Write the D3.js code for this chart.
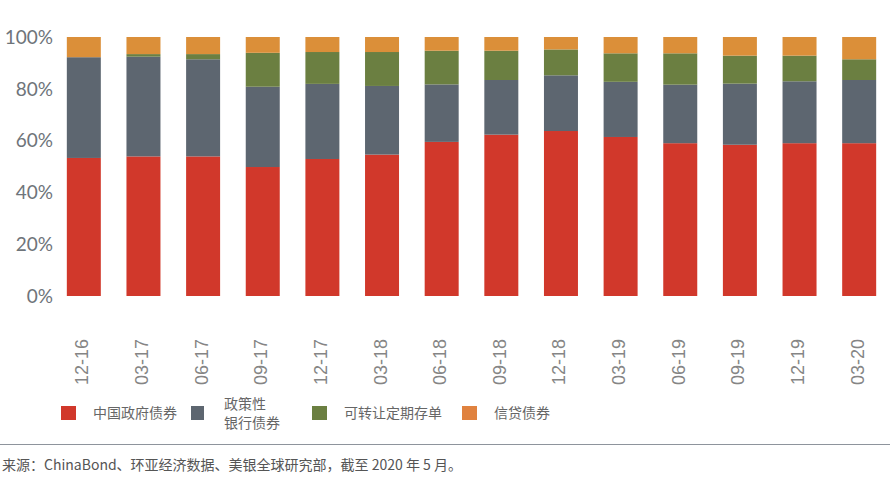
<!DOCTYPE html>
<html>
<head>
<meta charset="utf-8">
<script src="https://cdn.jsdelivr.net/npm/d3@7"></script>
<style>
  body { margin: 0; background: #fff; }
</style>
</head>
<body>
<svg id="chart"></svg>
<script>
const periods = ["12-16","03-17","06-17","09-17","12-17","03-18","06-18","09-18","12-18","03-19","06-19","09-19","12-19","03-20"];
const govBonds    = [53.3, 53.9, 53.9, 49.8, 52.9, 54.6, 59.5, 62.3, 63.7, 61.4, 59.0, 58.4, 59.0, 59.0];
const policyBank  = [38.9, 38.5, 37.5, 31.0, 29.0, 26.5, 22.2, 21.1, 21.5, 21.3, 22.6, 23.6, 23.9, 24.4];
const ncd         = [0.0, 1.0, 2.0, 13.1, 12.3, 13.1, 13.0, 11.3, 10.0, 11.0, 12.1, 10.8, 9.9, 8.0];
const creditBonds = [7.8, 6.6, 6.6, 6.1, 5.8, 5.8, 5.3, 5.3, 4.8, 6.3, 6.3, 7.2, 7.2, 8.6];
const yTicks = [0, 20, 40, 60, 80, 100];
const seriesNames = ["中国政府债券", "政策性银行债券", "可转让定期存单", "信贷债券"];
const seriesColors = ["#d1382b", "#5d6670", "#6b7f41", "#db8f39"];

const width = 894, height = 496;
const marginTop = 37, marginBottom = 200;
const keys = ["gov", "policy", "ncd", "credit"];

const data = periods.map((p, i) => ({
  period: p,
  gov: govBonds[i],
  policy: policyBank[i],
  ncd: ncd[i],
  credit: creditBonds[i]
}));

const svg = d3.select("#chart")
  .attr("width", width)
  .attr("height", height)
  .attr("viewBox", [0, 0, width, height]);

const x = d3.scaleBand()
  .domain(periods)
  .range([54, 889])
  .paddingInner(0.43)
  .paddingOuter(0.215);

const y = d3.scaleLinear()
  .domain([0, 100])
  .range([height - marginBottom, marginTop]);

const stack = d3.stack().keys(keys)(data);

svg.append("g")
  .selectAll("g")
  .data(stack)
  .join("g")
  .attr("fill", (d, i) => seriesColors[i])
  .selectAll("rect")
  .data(d => d)
  .join("rect")
  .attr("x", d => x(d.data.period))
  .attr("y", d => y(d[1]))
  .attr("height", d => y(d[0]) - y(d[1]))
  .attr("width", x.bandwidth());

// y axis labels
svg.append("g")
  .selectAll("text")
  .data(yTicks)
  .join("text")
  .attr("x", 53)
  .attr("y", d => y(d))
  .attr("dy", "0.36em")
  .attr("text-anchor", "end")
  .attr("font-family", "Lato, 'Open Sans', sans-serif")
  .attr("font-size", 19)
  .attr("fill", "#6e747a")
  .text(d => d + "%");

// x axis labels (rotated)
svg.append("g")
  .selectAll("text")
  .data(periods)
  .join("text")
  .attr("transform", d => `translate(${x(d) + x.bandwidth() / 2 - 2},339) rotate(-90)`)
  .attr("dy", "0.36em")
  .attr("text-anchor", "end")
  .attr("font-family", "'Liberation Sans', Arial, sans-serif")
  .attr("font-size", 18)
  .attr("fill", "#858585")
  .text(d => d);

// legend
const legendX = [61, 191, 312, 462];
const legend = svg.append("g")
  .attr("font-family", "'Noto Sans CJK SC', sans-serif")
  .attr("font-size", 14)
  .attr("fill", "#666");
seriesNames.forEach((name, i) => {
  legend.append("rect")
    .attr("x", legendX[i])
    .attr("y", 406)
    .attr("width", i === 1 ? 13 : 15)
    .attr("height", 14)
    .attr("fill", i === 3 ? "#e0823f" : seriesColors[i]);
  if (i === 1) {
    legend.append("text").attr("x", 224).attr("y", 409).text("政策性");
    legend.append("text").attr("x", 224).attr("y", 428).text("银行债券");
  } else {
    legend.append("text")
      .attr("x", legendX[i] + 32)
      .attr("y", 418)
      .text(name);
  }
});

// separator and source
svg.append("line")
  .attr("x1", 0).attr("x2", 890)
  .attr("y1", 444.5).attr("y2", 444.5)
  .attr("stroke", "#8e949c")
  .attr("stroke-width", 1);

svg.append("text")
  .attr("x", 2)
  .attr("y", 470)
  .attr("font-family", "'Noto Sans CJK SC', sans-serif")
  .attr("font-size", 14)
  .attr("fill", "#555")
  .text("来源：ChinaBond、环亚经济数据、美银全球研究部，截至 2020 年 5 月。");
</script>
</body>
</html>
